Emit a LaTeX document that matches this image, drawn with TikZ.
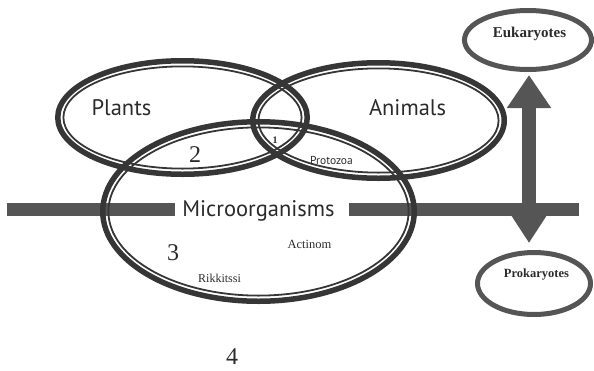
\documentclass[tikz,border=0pt]{standalone}
\usepackage{fontspec}
\setmainfont{Liberation Serif}
\newfontfamily\sansf{PT Sans}
\usetikzlibrary{arrows.meta,shapes.geometric}
\definecolor{ink}{HTML}{363636}
\definecolor{barc}{HTML}{555555}
\definecolor{txt}{HTML}{2B2B2B}
\tikzset{
  vennout/.style={draw=ink, line width=5.5pt},
  vennin/.style={draw=ink, line width=1.8pt},
  bigsans/.style={font=\sansf\fontsize{22.5}{27}\selectfont, text=txt, inner sep=0pt, anchor=base},
  smallsans/.style={font=\sansf\fontsize{11.5}{14}\selectfont, text=txt, inner sep=0pt, anchor=base},
  digit/.style={font=\fontsize{24}{28}\selectfont, text=txt, inner sep=0pt, anchor=base},
  smallserif/.style={font=\fontsize{12.5}{15}\selectfont, text=txt, inner sep=0pt, anchor=base},
  kingdom/.style={draw=barc, line width=5pt, ellipse, inner sep=0pt},
  bartile/.style={fill=barc, draw=none},
}
\begin{document}
\begin{tikzpicture}[x=1pt, y=-1pt]
\useasboundingbox (0,0) rectangle (594,370);
% horizontal divider bars
\fill[bartile] (7,203) rectangle (175,216);
\fill[bartile] (349,203) rectangle (579,216);
% Venn ellipses: thick outer line, thin inner line
\draw[vennout] (182.5,117.5) ellipse [x radius=124.75pt, y radius=56.75pt];
\draw[vennin]  (182.5,117.5) ellipse [x radius=119.1pt, y radius=51.1pt];
\draw[vennout] (378.5,120.5) ellipse [x radius=125.75pt, y radius=57.75pt];
\draw[vennin]  (378.5,120.5) ellipse [x radius=120.1pt, y radius=52.1pt];
\draw[vennout] (258.5,211.5) ellipse [x radius=155.75pt, y radius=89.75pt];
\draw[vennin]  (258.5,211.5) ellipse [x radius=150.1pt, y radius=84.1pt];
% labels
\node[bigsans] (plants) at (121.5,115) {Plants};
\node[bigsans] (animals) at (407.5,115) {Animals};
\node[bigsans] (micro) at (258.5,216) {Microorganisms};
\node[smallsans] (protozoa) at (331.5,164) {Protozoa};
\node[digit] (two) at (195,162) {2};
\node[font=\bfseries\fontsize{10}{12}\selectfont, text=txt, inner sep=0pt, anchor=base] (one) at (275,143) {1};
\node[digit] (three) at (173,260) {3};
\node[digit] (four) at (232,364) {4};
\node[smallserif, font=\fontsize{12}{14}\selectfont] (rikk) at (219.5,282) {Rikkitssi};
\node[smallserif] (actinom) at (309.5,248) {Actinom};
% kingdoms
\node[kingdom, minimum width=127pt, minimum height=59pt] (euk) at (528,40) {};
\node[kingdom, minimum width=113pt, minimum height=62pt] (pro) at (534,283.5) {};
\node[font=\bfseries\fontsize{15}{18}\selectfont, text=txt, inner sep=0pt, anchor=base] (eukt) at (529.5,37) {Eukaryotes};
\node[font=\bfseries\fontsize{12.5}{15}\selectfont, text=txt, inner sep=0pt, anchor=base] (prot) at (536.5,277) {Prokaryotes};
% double arrow
\draw[barc, line width=14pt,
      {Triangle[width=42pt,length=33pt]}-{Triangle[width=34pt,length=28pt]},
      shorten <=3pt, shorten >=7pt]
  ([xshift=1pt]euk.south) -- ([xshift=1pt]euk.south |- pro.north);
\end{tikzpicture}
\end{document}
